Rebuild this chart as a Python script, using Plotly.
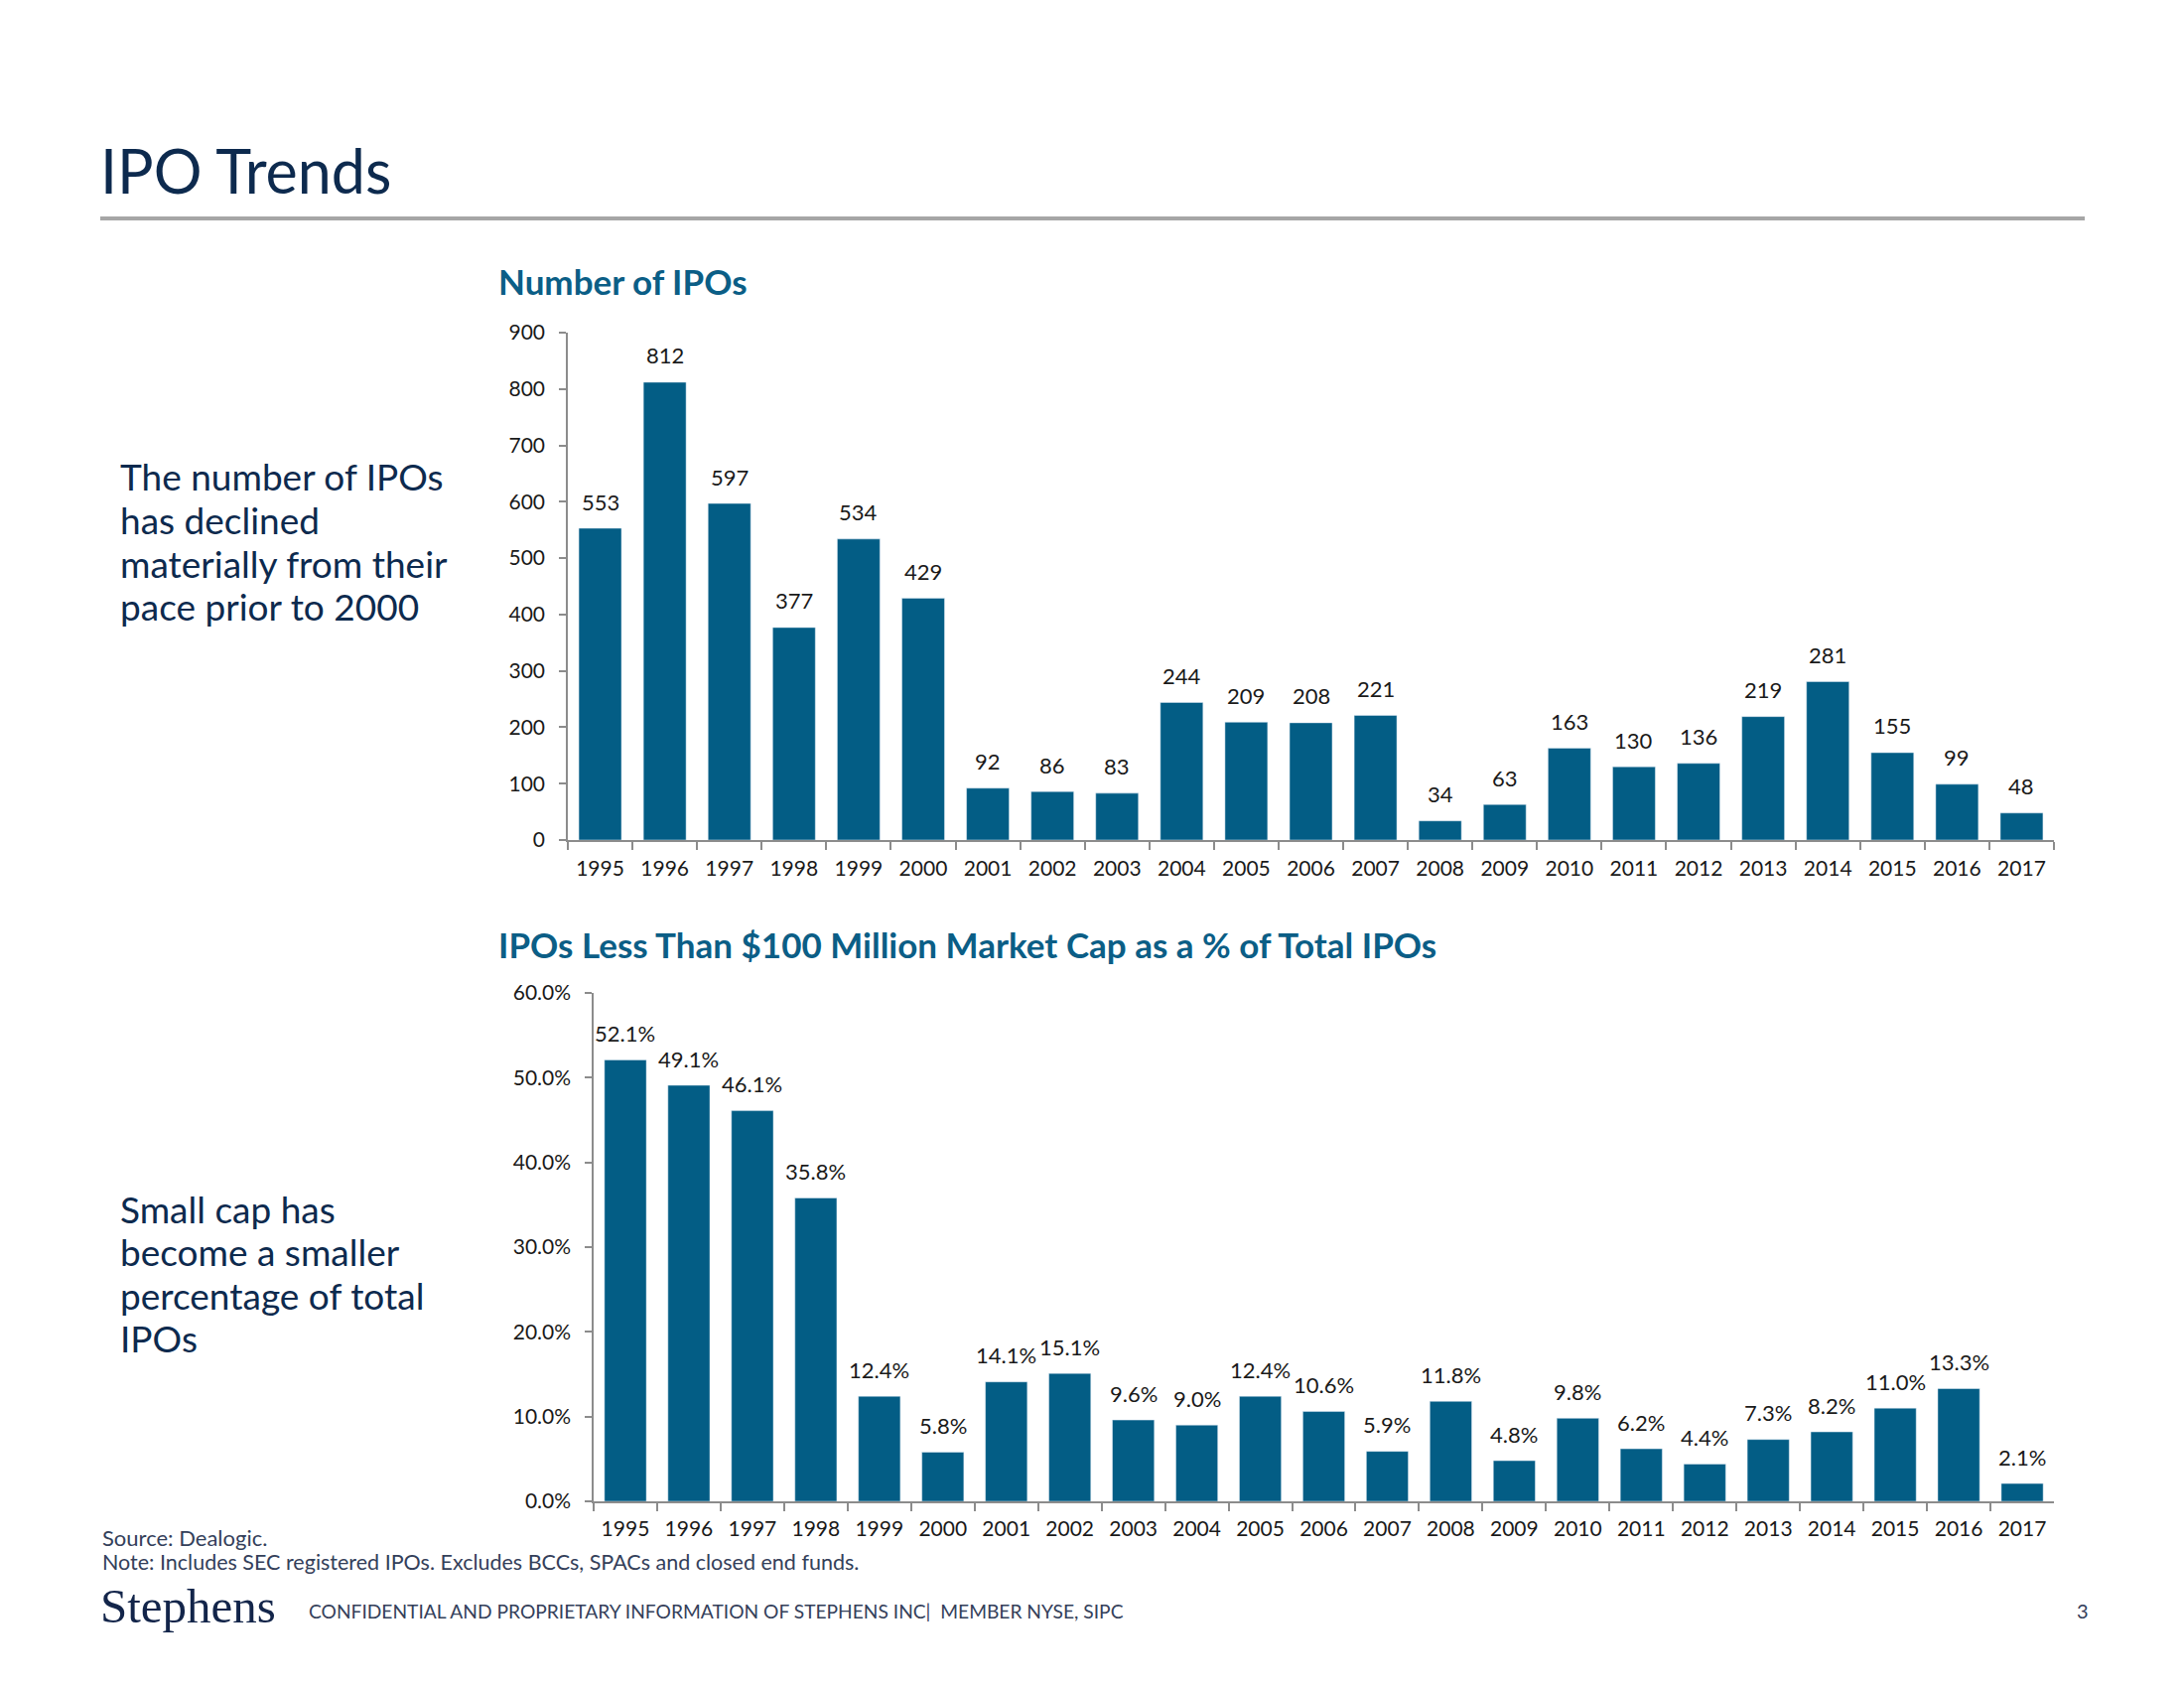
import plotly.graph_objects as go

years = [str(y) for y in range(1995, 2018)]
ipo_counts = [553, 812, 597, 377, 534, 429, 92, 86, 83, 244, 209, 208, 221,
              34, 63, 163, 130, 136, 219, 281, 155, 99, 48]
small_cap_pct = [52.1, 49.1, 46.1, 35.8, 12.4, 5.8, 14.1, 15.1, 9.6, 9.0, 12.4,
                 10.6, 5.9, 11.8, 4.8, 9.8, 6.2, 4.4, 7.3, 8.2, 11.0, 13.3, 2.1]
count_ticks = list(range(0, 1000, 100))
pct_ticks = [0.0, 0.1, 0.2, 0.3, 0.4, 0.5, 0.6]

W, H = 2200, 1700
OFF = 8  # page body margin compensation
BAR = "#035D85"
NAVY = "#0D2A4E"
TEAL = "#0B5E86"
AXIS = "#8C8C8C"
FONT = "Lato"


def px(x):
    return (x - OFF) / W


def py(y):
    return 1 - (y - OFF) / H


fig = go.Figure()
fig.add_trace(go.Bar(x=years, y=ipo_counts, marker_color=BAR, xaxis="x", yaxis="y",
                     hoverinfo="x+y"))
fig.add_trace(go.Bar(x=years, y=[v / 100 for v in small_cap_pct], marker_color=BAR,
                     xaxis="x2", yaxis="y2", hoverinfo="x+y"))

annotations = []
for i, v in enumerate(ipo_counts):
    annotations.append(dict(x=i, y=v, xref="x", yref="y", text=str(v), showarrow=False,
                            yanchor="middle", yshift=27,
                            font=dict(family=FONT, size=22, color="#1a1a1a")))
for i, v in enumerate(small_cap_pct):
    annotations.append(dict(x=i, y=v / 100, xref="x2", yref="y2", text=f"{v:.1f}%",
                            showarrow=False, yanchor="middle", yshift=27,
                            font=dict(family=FONT, size=22, color="#1a1a1a")))


def txt(x, y, text, size, color, bold=False, family=FONT, xanchor="left", yanchor="middle"):
    if bold:
        text = f"<b>{text}</b>"
    annotations.append(dict(x=px(x), y=py(y), xref="paper", yref="paper", text=text,
                            showarrow=False, xanchor=xanchor, yanchor=yanchor, align="left",
                            font=dict(family=family, size=size, color=color)))


txt(99, 171, "IPO Trends", 61, NAVY)
txt(500, 283, "Number of IPOs", 35, TEAL, bold=True)
txt(500, 951, "IPOs Less Than $100 Million Market Cap as a % of Total IPOs", 35, TEAL, bold=True)

left1 = ["The number of IPOs", "has declined", "materially from their", "pace prior to 2000"]
for i, line in enumerate(left1):
    txt(119, 480 + i * 43.5, line, 37, NAVY)
left2 = ["Small cap has", "become a smaller", "percentage of total", "IPOs"]
for i, line in enumerate(left2):
    txt(119, 1217 + i * 43.5, line, 37, NAVY)

txt(101, 1548, "Source: Dealogic.", 22, "#34405A")
txt(101, 1573, "Note: Includes SEC registered IPOs. Excludes BCCs, SPACs and closed end funds.", 21.5, "#34405A")
txt(99, 1617, "Stephens", 49, "#13254A", family="Liberation Serif")
txt(309, 1622, "CONFIDENTIAL AND PROPRIETARY INFORMATION OF STEPHENS INC|  MEMBER NYSE, SIPC", 19.2, "#34405A")
txt(2098, 1622, "3", 20, "#34405A", xanchor="center")

shapes = [dict(type="line", xref="paper", yref="paper", x0=px(101), x1=px(2100),
               y0=py(220), y1=py(220), line=dict(color="#A6A6A6", width=4))]

axis_common = dict(showline=True, linecolor=AXIS, linewidth=1.5, ticks="outside",
                   tickcolor=AXIS, tickwidth=1.5, showgrid=False, zeroline=False,
                   tickfont=dict(family=FONT, size=21, color="#1a1a1a"), fixedrange=True)

n = len(years)
fig.update_layout(
    width=W, height=H,
    margin=dict(l=0, r=0, t=0, b=0, autoexpand=False),
    paper_bgcolor="white", plot_bgcolor="white",
    showlegend=False, bargap=0.34,
    font=dict(family=FONT),
    xaxis=dict(domain=[px(572), px(2069)], anchor="y", type="category",
               range=[-0.5, n - 0.5], tickangle=0,
               tickson="boundaries", ticklen=8, ticklabelstandoff=9, **axis_common),
    yaxis=dict(domain=[py(846), py(335)], anchor="x", range=[0, 900],
               tickvals=count_ticks, ticklen=7, ticklabelstandoff=10, **axis_common),
    xaxis2=dict(domain=[px(598), px(2069)], anchor="y2", type="category",
                range=[-0.5, n - 0.5], tickangle=0,
                tickson="boundaries", ticklen=8, ticklabelstandoff=8, **axis_common),
    yaxis2=dict(domain=[py(1512), py(1000)], anchor="x2", range=[0, 0.6],
                tickvals=pct_ticks, tickformat=".1%", ticklen=7, ticklabelstandoff=10,
                **axis_common),
    annotations=annotations,
    shapes=shapes,
)

fig.write_html("out.html")
